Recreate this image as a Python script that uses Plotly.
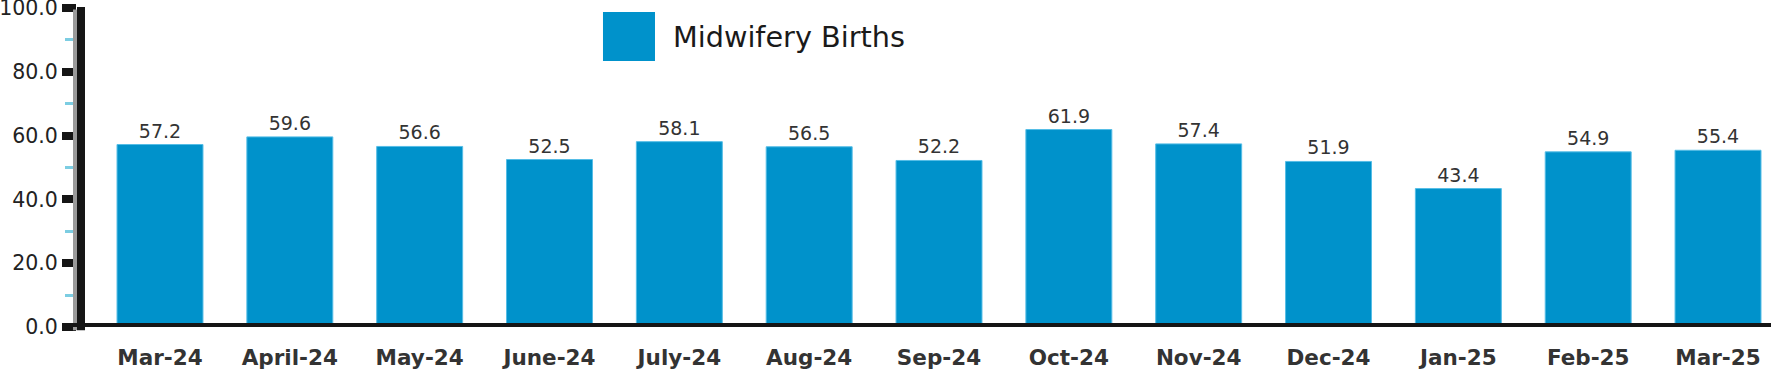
import plotly.graph_objects as go

categories = ["Mar-24", "April-24", "May-24", "June-24", "July-24", "Aug-24", "Sep-24",
              "Oct-24", "Nov-24", "Dec-24", "Jan-25", "Feb-25", "Mar-25"]
values = [57.2, 59.6, 56.6, 52.5, 58.1, 56.5, 52.2, 61.9, 57.4, 51.9, 43.4, 54.9, 55.4]
series_name = "Midwifery Births"
y_ticks = [0, 20, 40, 60, 80, 100]

BAR = "#0092CB"
FONT = "DejaVu Sans"
PW = 1771 - 77  # plot width in px, used to place axis decorations

fig = go.Figure()
fig.add_trace(go.Bar(
    x=categories, y=values, name=series_name,
    marker=dict(color=BAR, line=dict(color="#55BDE6", width=1)),
    text=[f"{v:.1f}" for v in values], textposition="outside",
    textfont=dict(family=FONT, size=19, color="#333333"),
    cliponaxis=False, showlegend=False,
))

fig.update_layout(
    width=1771, height=371,
    margin=dict(l=77, r=0, t=8, b=44, autoexpand=False),
    plot_bgcolor="white", paper_bgcolor="white",
    bargap=0.338,
    xaxis=dict(
        type="category", range=[-0.6393, 12.408], automargin=False,
        showline=False, ticks="", showgrid=False, zeroline=False,
        tickfont=dict(family=FONT, size=21.5, color="#333333", weight="bold"),
        ticklabelstandoff=15,
    ),
    yaxis=dict(
        range=[0, 100], tickvals=y_ticks, ticktext=[f"{v:.1f}" for v in y_ticks],
        automargin=False, showline=False,
        ticks="outside", ticklen=14, tickwidth=8, tickcolor="#151515",
        minor=dict(dtick=10, ticks="outside", ticklen=11, tickwidth=3, tickcolor="#7CCDE2", showgrid=False),
        showgrid=False, zeroline=False,
        tickfont=dict(family=FONT, size=20.5, color="#222222"),
        ticklabeloverflow="allow",
    ),
    shapes=[
        # grey edge strip left of the vertical axis line
        dict(type="line", xref="paper", yref="paper", x0=-2/PW, x1=-2/PW, y0=-0.01, y1=0.995,
             line=dict(color="#9A9A9A", width=4), layer="above"),
        # vertical black axis line
        dict(type="line", xref="paper", yref="paper", x0=4/PW, x1=4/PW, y0=-0.01, y1=1.003,
             line=dict(color="#151515", width=8), layer="above"),
        # horizontal black axis line at y=0
        dict(type="line", xref="paper", yref="y", x0=-14/PW, x1=1, y0=0, y1=0,
             line=dict(color="#151515", width=8), layer="above"),
        # legend swatch
        dict(type="rect", xref="paper", yref="paper", x0=0.3105, x1=0.3412, y0=0.8339, y1=0.9875,
             fillcolor=BAR, line=dict(width=0)),
    ],
    annotations=[
        dict(text=series_name, xref="paper", yref="paper", x=0.3507, y=0.909,
             xanchor="left", yanchor="middle", showarrow=False,
             font=dict(family=FONT, size=28.7, color="#1a1a1a")),
    ],
)

fig.write_html("out.html", config={"displayModeBar": False},
               post_script="document.body.style.margin='0';document.body.style.padding='0';")
